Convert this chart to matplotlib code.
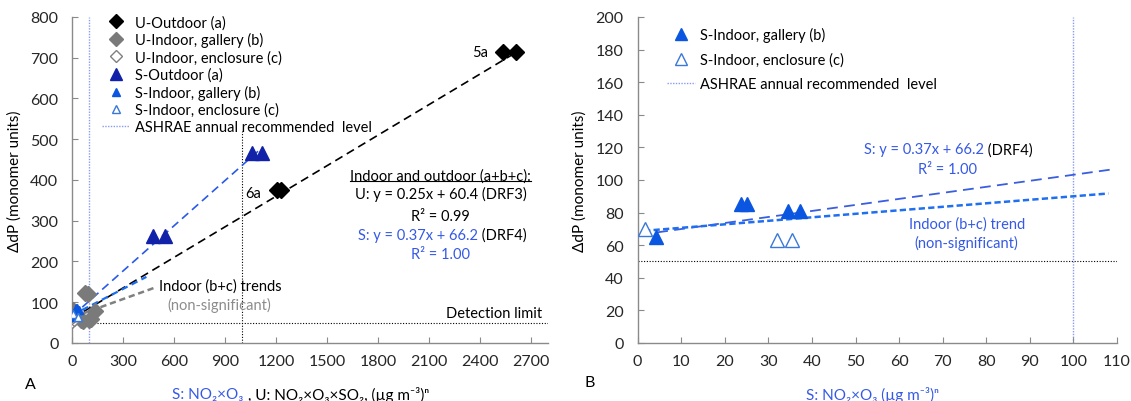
import matplotlib
matplotlib.use("Agg")
import matplotlib.pyplot as plt
from matplotlib.lines import Line2D

plt.rcParams['font.family'] = ['Lato', 'DejaVu Sans']
plt.rcParams['font.size'] = 10.5

# ---- data (panel A) ----
u_out_x = [2535, 2612, 1205, 1225]
u_out_y = [713, 713, 376, 376]
u_gal_x = [75, 90, 135, 50, 62, 98, 108, 5]
u_gal_y = [123, 121, 78, 57, 55, 57, 60, 80]
u_enc_x = [0, 8, 3]
u_enc_y = [55, 60, 66]
s_out_x = [472, 545, 1060, 1115]
s_out_y = [262, 262, 466, 466]

# S indoor values (shared by panel A and B)
s_gal_x = [4.2, 23.7, 25.0, 34.6, 37.3]
s_gal_y = [65, 85, 85, 81, 81]
s_enc_x = [1.6, 31.9, 35.4]
s_enc_y = [70, 63, 63]

# regression lines: slope, intercept, x-range
u_fit = (0.25, 60.4, [0, 2616])
s_fit_a = (0.37, 66.2, [0, 1100])
s_fit_b = (0.37, 66.2, [0.6, 109.7])
s_in_fit_a = (0.215, 68.5, [0, 436])
s_in_fit_b = (0.215, 68.5, [1.5, 108])
u_in_fit = (0.15, 63.0, [0, 480])

ashrae_x = 100
detection_limit = 50
marker_1000 = (1000, 520)

BLUE_TXT = '#3559e6'
NAVY = '#1222a8'
SBLUE = '#0a56e0'
GRAY = '#808080'
SPINE = '#8a8a8a'
FS = 10.5


def line_pts(fit):
    k, b, xs = fit
    return xs, [k * x + b for x in xs]


def style_axes(ax):
    for s in ['top', 'right']:
        ax.spines[s].set_visible(False)
    for s in ['left', 'bottom']:
        ax.spines[s].set_color(SPINE)
        ax.spines[s].set_linewidth(1.0)
    ax.tick_params(direction='in', length=4, color=SPINE, labelsize=11.5,
                   labelcolor='#262626')
    ax.tick_params(axis='x', pad=8)
    ax.tick_params(axis='y', pad=10)


fig = plt.figure(figsize=(11.31, 4.02), dpi=100)
axA = fig.add_axes([0.0639, 0.1443, 0.4209, 0.811])
axB = fig.add_axes([0.5637, 0.1443, 0.4240, 0.811])

# ================= panel A =================
ax = axA
ax.plot(*line_pts(u_fit), color='black', lw=1.2, dashes=(5, 3), zorder=2)
ax.plot(*line_pts(s_fit_a), color='#2a5ae6', lw=1.2, dashes=(5, 3), zorder=2)
ax.plot(*line_pts(s_in_fit_a), color='#1a6cf0', lw=1.6, dashes=(3, 2), zorder=2)
ax.plot(*line_pts(u_in_fit), color=GRAY, lw=1.8, dashes=(2.5, 1.5), zorder=2)
ax.plot([marker_1000[0]] * 2, [0, marker_1000[1]], color='black', lw=0.8,
        ls=(0, (1, 1.5)), zorder=1)
ax.axhline(detection_limit, color='black', lw=0.8, ls=(0, (1, 1.5)), zorder=1)
ax.axvline(ashrae_x, color='#8b9cf0', lw=1.0, ls=(0, (1, 1)), zorder=1)

h1, = ax.plot(u_out_x, u_out_y, 'D', color='black', ms=8, ls='none', zorder=4)
h2, = ax.plot(u_gal_x, u_gal_y, 'D', color='#7a7a7a', ms=8, ls='none', zorder=3)
h3, = ax.plot(u_enc_x, u_enc_y, 'D', mfc='white', mec='#808080', mew=1, ms=7,
              ls='none', zorder=3)
h4, = ax.plot(s_out_x, s_out_y, '^', color=NAVY, ms=10, ls='none', zorder=4)
h5, = ax.plot(s_gal_x, s_gal_y, '^', color=SBLUE, ms=6, ls='none', zorder=4)
h6, = ax.plot(s_enc_x, s_enc_y, '^', mfc='white', mec='#3a78d8', mew=1, ms=6,
              ls='none', zorder=4)
h7 = Line2D([], [], color='#8b9cf0', lw=1.0, ls=(0, (1, 1)))

ax.set_xlim(0, 2800)
ax.set_ylim(0, 800)
ax.set_xticks(range(0, 2701, 300))
ax.set_yticks(range(0, 801, 100))
style_axes(ax)
ax.set_ylabel('ΔdP (monomer units)', fontsize=11, labelpad=6)

ax.legend([h1, h2, h3, h4, h5, h6, h7],
          ['U-Outdoor (a)', 'U-Indoor, gallery (b)', 'U-Indoor, enclosure (c)',
           'S-Outdoor (a)', 'S-Indoor, gallery (b)', 'S-Indoor, enclosure (c)',
           'ASHRAE annual recommended  level'],
          loc='upper left', bbox_to_anchor=(0.062, 1.006), frameon=False,
          borderpad=0, borderaxespad=0, handlelength=1.9, handletextpad=0.35,
          labelspacing=0.2, fontsize=FS, markerscale=0.85)

ax.text(2446, 713, '5a', ha='right', va='center', fontsize=FS)
ax.text(1016, 367, '6a', ha='left', va='center', fontsize=FS)
head = ax.text(2168, 411, 'Indoor and outdoor (a+b+c):', ha='center', va='center',
               fontsize=FS)
ax.text(2168, 366, 'U: y = 0.25x + 60.4 (DRF3)', ha='center', va='center', fontsize=FS)
ax.text(2168, 312, 'R² = 0.99', ha='center', va='center', fontsize=FS)
ax.text(2388, 265, 'S: y = 0.37x + 66.2', ha='right', va='center', fontsize=FS,
        color=BLUE_TXT)
ax.text(2388, 265, ' (DRF4)', ha='left', va='center', fontsize=FS)
ax.text(2168, 218, 'R² = 1.00', ha='center', va='center', fontsize=FS, color=BLUE_TXT)
ax.text(509, 142, 'Indoor (b+c) trends', ha='left', va='center', fontsize=FS)
ax.text(867, 94, '(non-significant)', ha='center', va='center', fontsize=FS,
        color='#8c8c8c')
ax.text(2761, 73, 'Detection limit', ha='right', va='center', fontsize=FS)

ax.text(0.36, -0.156, 'S: NO₂×O₃', transform=ax.transAxes, ha='right',
        va='center', fontsize=11, color=BLUE_TXT)
ax.text(0.36, -0.156, ' , U: NO₂×O₃×SO₂, (µg m⁻³)ⁿ', transform=ax.transAxes,
        ha='left', va='center', fontsize=11)
fig.text(30 / 1131, 1 - 385 / 402, 'A', ha='center', va='center', fontsize=11.5)

# ================= panel B =================
ax = axB
ax.plot(*line_pts(s_fit_b), color='#3a5ee0', lw=1.3, dashes=(6, 3.5), zorder=2)
ax.plot(*line_pts(s_in_fit_b), color='#1f6ff0', lw=1.8, dashes=(2.5, 1.3), zorder=2)
ax.axhline(detection_limit, color='black', lw=0.8, ls=(0, (1, 1.5)), zorder=1)
ax.axvline(ashrae_x, color='#8b9cf0', lw=1.0, ls=(0, (1, 1)), zorder=1)

g1, = ax.plot(s_gal_x, s_gal_y, '^', color=SBLUE, ms=10, ls='none', zorder=4)
g2, = ax.plot(s_enc_x, s_enc_y, '^', mfc='white', mec='#3a78d8', mew=1, ms=10,
              ls='none', zorder=4)
g3 = Line2D([], [], color='#8b9cf0', lw=1.0, ls=(0, (1, 1)))

ax.set_xlim(0, 110)
ax.set_ylim(0, 200)
ax.set_xticks(range(0, 111, 10))
ax.set_yticks(range(0, 201, 20))
style_axes(ax)
ax.set_ylabel('ΔdP (monomer units)', fontsize=11, labelpad=6)
ax.text(0.49, -0.156, 'S: NO₂×O₃ (µg m⁻³)ⁿ', transform=ax.transAxes, ha='center',
        va='center', fontsize=11, color=BLUE_TXT)

ax.legend([g1, g2, g3],
          ['S-Indoor, gallery (b)', 'S-Indoor, enclosure (c)',
           'ASHRAE annual recommended  level'],
          loc='upper left', bbox_to_anchor=(0.062, 0.968), frameon=False,
          borderpad=0, borderaxespad=0, handlelength=1.9, handletextpad=0.35,
          labelspacing=0.7, fontsize=FS, markerscale=0.8)

ax.text(79.5, 118.7, 'S: y = 0.37x + 66.2', ha='right', va='center', fontsize=FS,
        color=BLUE_TXT)
ax.text(79.5, 118.7, ' (DRF4)', ha='left', va='center', fontsize=FS)
ax.text(71.0, 107, 'R² = 1.00', ha='center', va='center', fontsize=FS, color=BLUE_TXT)
ax.text(75.5, 73.4, 'Indoor (b+c) trend', ha='center', va='center', fontsize=FS,
        color=BLUE_TXT)
ax.text(75.5, 61.6, '(non-significant)', ha='center', va='center', fontsize=FS,
        color=BLUE_TXT)
fig.text(590 / 1131, 1 - 383 / 402, 'B', ha='center', va='center', fontsize=11.5)

# underline for the equation heading in panel A
fig.canvas.draw()
bb = head.get_window_extent().transformed(fig.transFigure.inverted())
fig.add_artist(Line2D([bb.x0, bb.x1], [bb.y0 + 0.003, bb.y0 + 0.003],
                      transform=fig.transFigure, color='black', lw=0.8))

fig.savefig('out.png', dpi=100)
